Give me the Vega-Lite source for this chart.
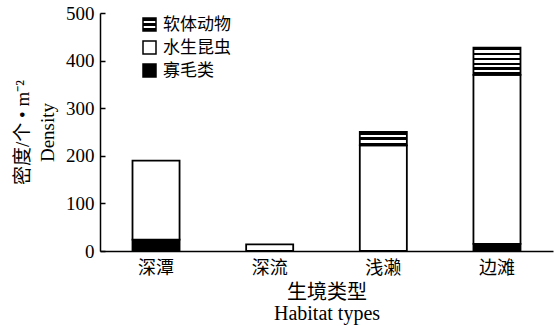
{
  "$schema": "https://vega.github.io/schema/vega-lite/v6.json",
  "width": 453,
  "height": 238,
  "autosize": {"type": "none"},
  "padding": {"left": 100, "top": 13, "right": 1, "bottom": 75},
  "background": "white",
  "config": {
    "view": {"stroke": null},
    "font": "Liberation Serif, Noto Sans CJK SC"
  },
  "data": {
    "values": [
      {"habitat": "深潭", "species": "寡毛类", "density": 24},
      {"habitat": "深潭", "species": "水生昆虫", "density": 166},
      {"habitat": "深流", "species": "水生昆虫", "density": 14},
      {"habitat": "浅濑", "species": "水生昆虫", "density": 222},
      {"habitat": "浅濑", "species": "软体动物", "density": 28},
      {"habitat": "边滩", "species": "寡毛类", "density": 15},
      {"habitat": "边滩", "species": "水生昆虫", "density": 355},
      {"habitat": "边滩", "species": "软体动物", "density": 57}
    ]
  },
  "mark": {"type": "bar", "stroke": "black", "strokeWidth": 1.8},
  "encoding": {
    "x": {
      "field": "habitat",
      "type": "nominal",
      "sort": ["深潭", "深流", "浅濑", "边滩"],
      "scale": {"paddingInner": 0.586, "paddingOuter": 0.286},
      "axis": {
        "title": ["生境类型", "Habitat types"],
        "titleFont": "Liberation Serif, Noto Sans CJK SC",
        "titleFontSize": 20,
        "titleFontWeight": "normal",
        "titleColor": "black",
        "titleLineHeight": 21,
        "titlePadding": 5,
        "labelAngle": 0,
        "labelFont": "Noto Sans CJK SC",
        "labelFontSize": 18,
        "labelColor": "black",
        "labelPadding": 8,
        "ticks": false,
        "domainColor": "black",
        "domainWidth": 1.5
      }
    },
    "y": {
      "field": "density",
      "type": "quantitative",
      "stack": "zero",
      "scale": {"domain": [0, 500], "nice": false},
      "axis": {
        "title": ["密度/个 • m⁻²", "Density"],
        "titleFont": "Liberation Serif, Noto Sans CJK SC",
        "titleFontSize": 19,
        "titleFontWeight": "normal",
        "titleColor": "black",
        "titleLineHeight": 25,
        "titlePadding": 8,
        "values": [0, 100, 200, 300, 400, 500],
        "labelFont": "Liberation Serif",
        "labelFontSize": 19,
        "labelColor": "black",
        "labelPadding": 11,
        "tickSize": -5,
        "tickColor": "black",
        "tickWidth": 1.5,
        "domainColor": "black",
        "domainWidth": 1.5,
        "grid": false
      }
    },
    "order": {"field": "species", "sort": "ascending"},
    "fill": {
      "field": "species",
      "type": "nominal",
      "scale": {
        "domain": ["软体动物", "水生昆虫", "寡毛类"],
        "range": [
          {"expr": "{gradient: 'linear', x1: 0, y1: 0, x2: 0, y2: 1, stops: [{offset: 0, color: 'black'}, {offset: 0.2, color: 'black'}, {offset: 0.2, color: 'white'}, {offset: 0.4, color: 'white'}, {offset: 0.4, color: 'black'}, {offset: 0.6, color: 'black'}, {offset: 0.6, color: 'white'}, {offset: 0.8, color: 'white'}, {offset: 0.8, color: 'black'}, {offset: 1, color: 'black'}]}"},
          "white",
          "black"
        ]
      },
      "condition": {
        "test": "datum.species === '软体动物' && datum.habitat === '边滩'",
        "value": {
          "gradient": "linear", "x1": 0, "y1": 0, "x2": 0, "y2": 1,
          "stops": [
            {"offset": 0, "color": "black"}, {"offset": 0.0909, "color": "black"},
            {"offset": 0.0909, "color": "white"}, {"offset": 0.1818, "color": "white"},
            {"offset": 0.1818, "color": "black"}, {"offset": 0.2727, "color": "black"},
            {"offset": 0.2727, "color": "white"}, {"offset": 0.3636, "color": "white"},
            {"offset": 0.3636, "color": "black"}, {"offset": 0.4545, "color": "black"},
            {"offset": 0.4545, "color": "white"}, {"offset": 0.5455, "color": "white"},
            {"offset": 0.5455, "color": "black"}, {"offset": 0.6364, "color": "black"},
            {"offset": 0.6364, "color": "white"}, {"offset": 0.7273, "color": "white"},
            {"offset": 0.7273, "color": "black"}, {"offset": 0.8182, "color": "black"},
            {"offset": 0.8182, "color": "white"}, {"offset": 0.9091, "color": "white"},
            {"offset": 0.9091, "color": "black"}, {"offset": 1, "color": "black"}
          ]
        }
      },
      "legend": {
        "title": null,
        "orient": "none",
        "legendX": 41,
        "legendY": 3,
        "padding": 0,
        "symbolType": "square",
        "symbolSize": 169,
        "symbolStrokeColor": "black",
        "symbolStrokeWidth": 1.5,
        "labelFont": "Noto Sans CJK SC",
        "labelFontSize": 17,
        "labelColor": "black",
        "labelOffset": 5,
        "rowPadding": 4
      }
    }
  }
}
